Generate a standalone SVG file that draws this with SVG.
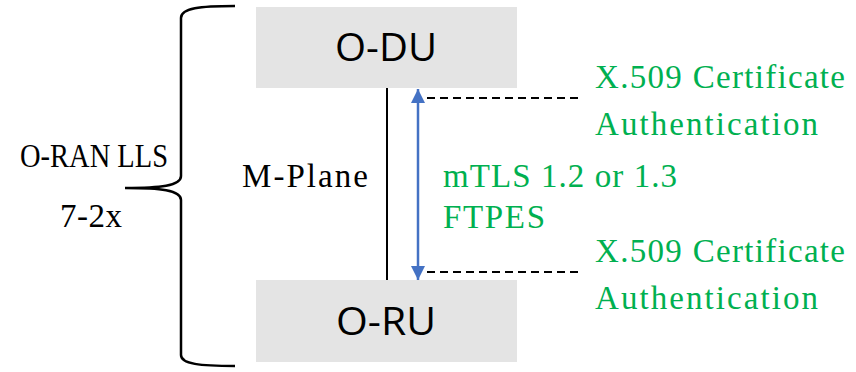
<svg xmlns="http://www.w3.org/2000/svg" width="856" height="372" viewBox="0 0 856 372">
<style>
.box{fill:#e4e4e4}
.nt{font-family:"Open Sans","Noto Sans",sans-serif;font-size:38px;fill:#000}
.tm{font-family:"Liberation Serif","Times New Roman",serif;fill:#000;font-size:33px}
.gr{font-family:"Liberation Serif","Times New Roman",serif;fill:#00b050;font-size:33px}
.dash{stroke:#000;stroke-width:2;stroke-dasharray:8 5;fill:none}
</style>
<defs>
<marker id="ah" viewBox="0 0 10 10" refX="10" refY="5" markerWidth="5.6" markerHeight="5.6" orient="auto-start-reverse" markerUnits="strokeWidth">
<path d="M0,0 L10,5 L0,10 z" fill="#4472c4"/>
</marker>
</defs>
<rect width="856" height="372" fill="#fff"/>
<g id="brace">
<path d="M235,6 C200,6 181,8 181,18 L181,176 C181,186 160,188 125,188 C160,188 181,190 181,200 L181,355 C181,364 200,366 235,366" fill="none" stroke="#000" stroke-width="2.5"/>
<text class="tm" x="20" y="167" textLength="148" lengthAdjust="spacingAndGlyphs">O-RAN LLS</text>
<text class="tm" x="60" y="227" textLength="62" lengthAdjust="spacing">7-2x</text>
</g>
<g id="odu">
<rect class="box" x="256" y="7" width="261" height="81"/>
<text class="nt" x="335" y="61" textLength="102" lengthAdjust="spacingAndGlyphs">O-DU</text>
</g>
<g id="oru">
<rect class="box" x="256" y="280" width="261" height="82"/>
<text class="nt" x="336" y="335" textLength="100" lengthAdjust="spacingAndGlyphs">O-RU</text>
</g>
<g id="connectors">
<line x1="387" y1="88" x2="387" y2="280" stroke="#000" stroke-width="2"/>
<line x1="418" y1="89" x2="418" y2="280" stroke="#4472c4" stroke-width="2.5" marker-start="url(#ah)" marker-end="url(#ah)"/>
<line class="dash" x1="427" y1="98" x2="580" y2="98"/>
<line class="dash" x1="427" y1="272" x2="580" y2="272"/>
</g>
<g id="labels">
<text class="tm" x="242" y="187" textLength="126" lengthAdjust="spacing">M-Plane</text>
<text class="gr" x="595" y="88" textLength="250" lengthAdjust="spacing">X.509 Certificate</text>
<text class="gr" x="595" y="135" textLength="223" lengthAdjust="spacing">Authentication</text>
<text class="gr" x="443" y="187" textLength="234" lengthAdjust="spacing">mTLS 1.2 or 1.3</text>
<text class="gr" x="443" y="228" textLength="102" lengthAdjust="spacing">FTPES</text>
<text class="gr" x="595" y="262" textLength="250" lengthAdjust="spacing">X.509 Certificate</text>
<text class="gr" x="595" y="309" textLength="223" lengthAdjust="spacing">Authentication</text>
</g>
</svg>
